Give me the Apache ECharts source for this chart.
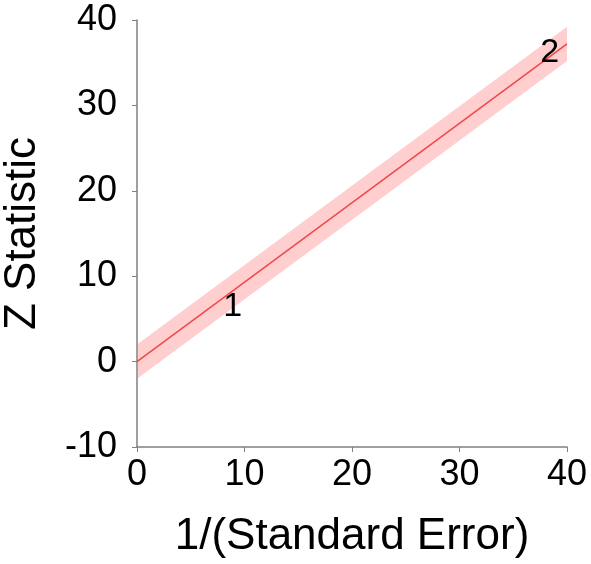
<!DOCTYPE html>
<html>
<head>
<meta charset="utf-8">
<script src="https://cdn.jsdelivr.net/npm/echarts@6/dist/echarts.min.js"></script>
<style>html,body{margin:0;padding:0;background:#fff}#c{width:591px;height:564px}</style>
</head>
<body>
<div id="c"></div>
<script>
// Fitted regression line (through origin) and ±2 band
const lineX = [0, 40];
const lineZ = [0, 37.2];
const bandLower = [-2, 35.2];
const bandUpper = [2, 39.2];
// Study points (labelled)
const studyX = [8.9, 38.4];
const studyZ = [6.4, 36.2];
const studyLabels = ['1', '2'];
// Axis ticks
const xTicks = [0, 10, 20, 30, 40];
const yTicks = [-10, 0, 10, 20, 30, 40];

const FONT = '"Liberation Sans", Arial, sans-serif';
const chart = echarts.init(document.getElementById('c'));
chart.setOption({
  animation: false,
  grid: { left: 137, right: 24, top: 20, bottom: 117, outerBoundsMode: 'none', containLabel: false },
  xAxis: {
    type: 'value', min: xTicks[0], max: xTicks[xTicks.length - 1], interval: 10,
    name: '1/(Standard Error)', nameLocation: 'middle', nameGap: 68,
    nameTextStyle: { fontSize: 44, color: '#000', fontFamily: FONT },
    axisLine: { show: true, onZero: false, lineStyle: { color: '#808080', width: 1.5 } },
    axisTick: { show: true, inside: false, length: 5, lineStyle: { color: '#808080' } },
    axisLabel: { fontSize: 36, color: '#000', fontFamily: FONT, margin: 10 },
    splitLine: { show: false }
  },
  yAxis: {
    type: 'value', min: yTicks[0], max: yTicks[yTicks.length - 1], interval: 10,
    name: 'Z Statistic', nameLocation: 'middle', nameGap: 92,
    nameTextStyle: { fontSize: 44, color: '#000', fontFamily: FONT },
    axisLine: { show: true, onZero: false, lineStyle: { color: '#808080', width: 1.5 } },
    axisTick: { show: true, length: 5, lineStyle: { color: '#808080' } },
    axisLabel: { fontSize: 36, color: '#000', fontFamily: FONT, margin: 20 },
    splitLine: { show: false }
  },
  series: [
    {
      type: 'custom', silent: true, z: 1,
      data: lineX.map((x, i) => [x, bandLower[i], bandUpper[i]]),
      encode: { x: 0, y: [1, 2] },
      renderItem: function (params, api) {
        if (params.dataIndex !== 0) return;
        const pts = [];
        for (let i = 0; i < lineX.length; i++) pts.push(api.coord([lineX[i], bandUpper[i]]));
        for (let i = lineX.length - 1; i >= 0; i--) pts.push(api.coord([lineX[i], bandLower[i]]));
        return { type: 'polygon', shape: { points: pts }, style: { fill: 'rgba(255,120,120,0.36)' } };
      }
    },
    {
      type: 'line', symbol: 'none', z: 2,
      data: lineX.map((x, i) => [x, lineZ[i]]),
      lineStyle: { color: '#f04848', width: 1.5 }
    },
    {
      type: 'scatter', symbolSize: 1, z: 10,
      itemStyle: { opacity: 0 },
      data: studyX.map((x, i) => ({ value: [x, studyZ[i]], name: studyLabels[i] })),
      label: { show: true, position: 'inside', formatter: p => p.name, fontSize: 34, color: '#000', opacity: 1, fontFamily: FONT }
    }
  ]
});
</script>
</body>
</html>
